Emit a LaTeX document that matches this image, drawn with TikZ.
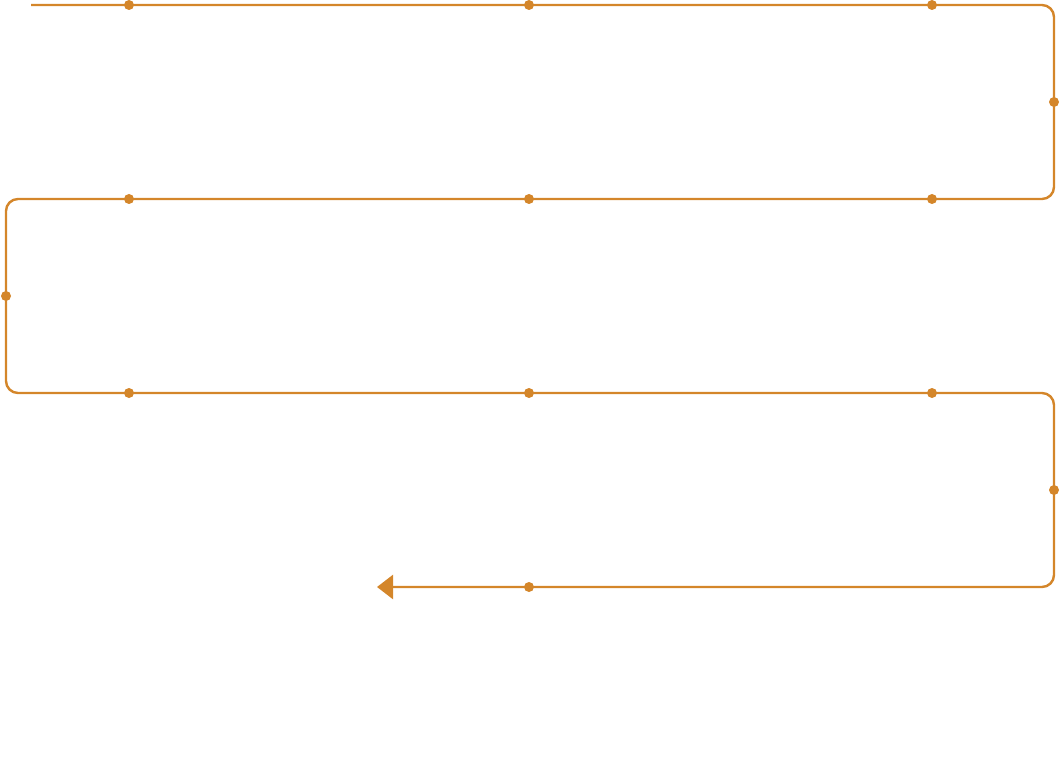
\documentclass[tikz,border=0pt]{standalone}
\usepackage{tikz}
\usetikzlibrary{arrows.meta}
\definecolor{ochre}{HTML}{D4862A}

\begin{document}
\begin{tikzpicture}[x=1pt,y=-1pt,
wire/.style={draw=ochre,line width=2.4pt,rounded corners=12pt},
arr/.style={-{Triangle[length=16pt,width=24pt]}},
dot/.style={circle,fill=ochre,inner sep=0pt,minimum size=10pt}]
\useasboundingbox (0,0) rectangle (1060,767);
\coordinate (start) at (31,5);
\coordinate (c1) at (1054,5);
\coordinate (c2) at (1054,199);
\coordinate (c3) at (6,199);
\coordinate (c4) at (6,393);
\coordinate (c5) at (1054,393);
\coordinate (c6) at (1054,587);
\coordinate (end) at (377,587);
\draw[wire,arr] (start) -- (c1) -- (c2) -- (c3) -- (c4) -- (c5) -- (c6) -- (end);
\foreach \i/\y in {1/5,2/199,3/393}{
  \node[dot] (d\i a) at (129,\y) {};
  \node[dot] (d\i b) at (529,\y) {};
  \node[dot] (d\i c) at (932,\y) {};
}
\node[dot] (d4b) at (529,587) {};
\node[dot] (s1) at (1054,102) {};
\node[dot] (s2) at (6,296) {};
\node[dot] (s3) at (1054,490) {};
\end{tikzpicture}
\end{document}
